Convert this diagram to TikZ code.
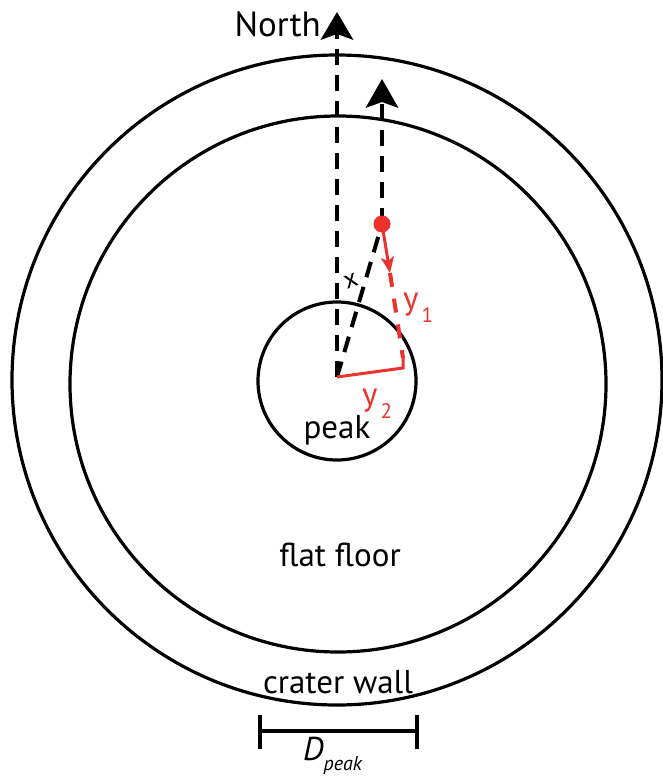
\documentclass[tikz,border=0pt]{standalone}
\usepackage{fontspec}
\setmainfont{PT Sans}
\usetikzlibrary{arrows.meta}
\definecolor{myred}{RGB}{235,50,45}
\begin{document}
\begin{tikzpicture}[x=1pt,y=-1pt,
  ring/.style={line width=3.2pt},
  dsh/.style={line width=4pt, dash pattern=on 16pt off 10pt},
  rdsh/.style={myred, line width=4pt, dash pattern=on 14pt off 12pt},
  head/.style={fill=black},
  lbl/.style={font=\fontsize{33}{38}\selectfont, inner sep=0pt}]
\useasboundingbox (0,0) rectangle (663,779);
% circles
\draw[ring] (337,380) circle (325pt);
\draw[ring] (338,384) circle (268pt);
\draw[ring] (337,381) circle (79pt);
% key points
\coordinate (c) at (337,377);
\coordinate (n) at (337,12);
\coordinate (nb) at (337,34);
\coordinate (d) at (382,224);
\coordinate (n2) at (382,79);
\coordinate (n2b) at (382,101);
\coordinate (a) at (390,273);
\coordinate (r1) at (403,358);
\coordinate (r2) at (403,368);
% north lines
\draw[dsh] (c) -- (nb);
\fill[head] (n) -- ++(-16.5,28) -- ++(16.5,-6) -- ++(16.5,6) -- cycle;
\draw[dsh] (d) -- (n2b);
\fill[head] (n2) -- ++(-16.5,29) -- ++(16.5,-6) -- ++(16.5,6) -- cycle;
\draw[dsh] (c) -- (d);
% red parts
\draw[rdsh] (a) -- (r1);
\draw[myred, line width=3pt] (r1) -- (r2) -- (c);
\draw[myred, line width=3pt, -{Stealth[length=16pt,width=13pt,inset=4pt]}] (d) -- (a);
\node[circle, fill=myred, minimum size=17pt, inner sep=0pt] (dot) at (d) {};
% labels
\node[lbl, anchor=east, font=\fontsize{35}{40}\selectfont] (north) at (321,24) {North};
\node[lbl, rotate=20, font=\fontsize{26}{30}\selectfont] (xl) at (351,281) {x};
\node[lbl, myred, anchor=base west] (y1) at (403,309) {y\kern3pt\raisebox{-0.4em}{\fontsize{21}{24}\selectfont 1}};
\node[lbl, myred, anchor=base west] (y2) at (362,405) {y\kern3pt\raisebox{-0.4em}{\fontsize{21}{24}\selectfont 2}};
\node[lbl] (peak) at (337,430) {peak};
\node[lbl] (floor) at (340,555) {flat floor};
\node[lbl] (wall) at (338,682) {crater wall};
% D_peak bar
\coordinate (b1) at (260,731);
\coordinate (b2) at (417,731);
\draw[ring] (b1) -- (b2);
\draw[ring] ([yshift=-18pt]b1) -- ([yshift=16pt]b1);
\draw[ring] ([yshift=-18pt]b2) -- ([yshift=16pt]b2);
\node[lbl, anchor=base west] (dp) at (303,760) {\itshape D\raisebox{-0.33em}{\fontsize{20}{24}\selectfont peak}};
\end{tikzpicture}
\end{document}
